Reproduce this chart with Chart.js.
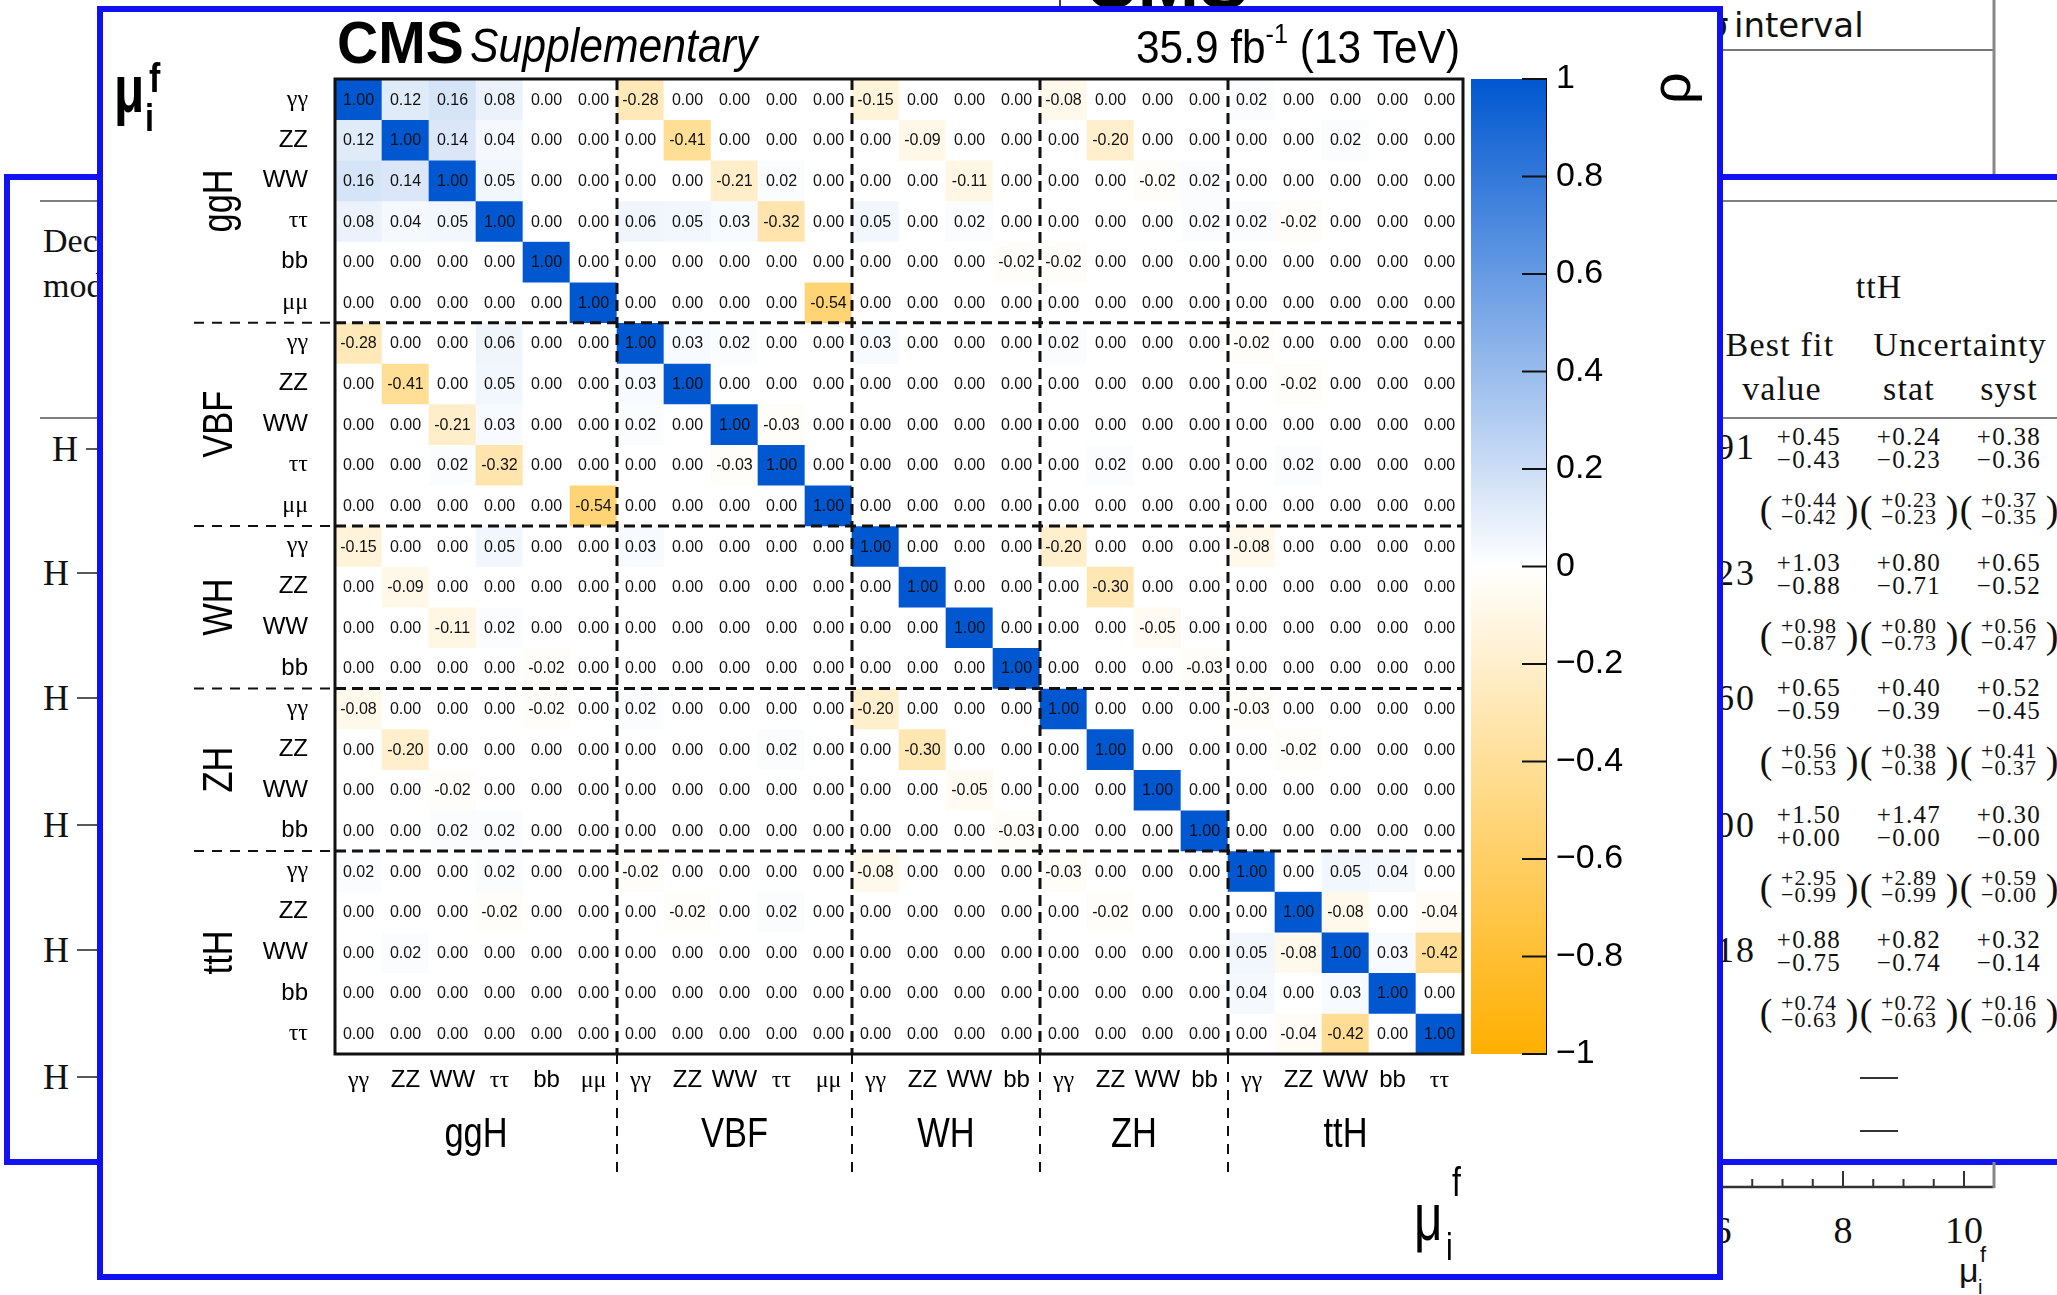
<!DOCTYPE html>
<html>
<head>
<meta charset="utf-8">
<script src="https://cdn.jsdelivr.net/npm/chart.js@4.4.1/dist/chart.umd.min.js"></script>
<style>
  html, body { margin: 0; padding: 0; background: #fff; }
  body { position: relative; width: 2057px; height: 1295px; overflow: hidden; }
  #behind { position: absolute; left: 0; top: 0; z-index: 0; }
  #window { position: absolute; left: 97px; top: 6px; width: 1626px; height: 1274px;
            box-sizing: border-box; border: 6px solid #1010f0; background: #fff; z-index: 2; }
  #matrix { position: absolute; left: 103px; top: 12px; z-index: 3; }
  #scale { position: absolute; left: 1460px; top: 12px; z-index: 3; }
</style>
</head>
<body>
<svg id="behind" width="2057" height="1295" xmlns="http://www.w3.org/2000/svg"
     font-family="Liberation Serif" fill="#111">
  <!-- top strip -->
  <line x1="1060" y1="0" x2="1060" y2="10" stroke="#444" stroke-width="2"/>
  <text x="1084" y="8" font-family="Liberation Sans" font-weight="bold" font-size="74" fill="#000">CMS</text>
  <text x="1707" y="37" font-family="DejaVu Sans" font-size="34">σ</text>
  <text x="1734" y="37" font-family="DejaVu Sans" font-size="34">interval</text>
  <line x1="1700" y1="50" x2="1994" y2="50" stroke="#777" stroke-width="2"/>
  <line x1="1994" y1="0" x2="1994" y2="178" stroke="#888" stroke-width="3"/>
  <!-- results table window -->
  <rect x="7" y="177" width="2100" height="985" fill="#fff" stroke="#1212f2" stroke-width="6"/>
  <line x1="40" y1="201" x2="2057" y2="201" stroke="#555" stroke-width="1.5"/>
  <line x1="40" y1="418" x2="2057" y2="418" stroke="#555" stroke-width="1.5"/>
  <text x="43" y="252" font-size="34">Decay</text>
  <text x="43" y="297" font-size="34">mode</text>
  <g id="hRows" font-size="36"></g>
  <text x="1879" y="298" font-size="34" text-anchor="middle" letter-spacing="1">ttH</text>
  <text x="1780" y="356" font-size="34" text-anchor="middle" letter-spacing="1.2">Best fit</text>
  <text x="1782" y="400" font-size="34" text-anchor="middle" letter-spacing="1.2">value</text>
  <text x="1960" y="356" font-size="34" text-anchor="middle" letter-spacing="1.2">Uncertainty</text>
  <text x="1909" y="400" font-size="34" text-anchor="middle" letter-spacing="1.2">stat</text>
  <text x="2009" y="400" font-size="34" text-anchor="middle" letter-spacing="1.2">syst</text>
  <g id="tableRows"></g>
  <line x1="1860" y1="1078" x2="1898" y2="1078" stroke="#333" stroke-width="2"/>
  <line x1="1860" y1="1131" x2="1898" y2="1131" stroke="#333" stroke-width="2"/>
  <!-- fit axis below the table -->
  <line x1="1700" y1="1187" x2="1994" y2="1187" stroke="#333" stroke-width="2.5"/>
  <line x1="1994" y1="1162" x2="1994" y2="1188" stroke="#888" stroke-width="3"/>
  <g id="fitAxis" font-size="38"></g>
  <text x="1959" y="1282" font-family="Liberation Sans" font-size="34">μ</text>
  <text x="1980" y="1262" font-family="Liberation Sans" font-size="22">f</text>
  <text x="1978" y="1294" font-family="Liberation Sans" font-size="20">i</text>
</svg>
<div id="window"></div>
<canvas id="matrix" width="1399" height="1262"></canvas>
<canvas id="scale" width="257" height="1262"></canvas>
<script>
// decay channel of each parameter, grouped by production mode
const decays = ['γγ', 'ZZ', 'WW', 'ττ', 'bb', 'μμ',
                'γγ', 'ZZ', 'WW', 'ττ', 'μμ',
                'γγ', 'ZZ', 'WW', 'bb',
                'γγ', 'ZZ', 'WW', 'bb',
                'γγ', 'ZZ', 'WW', 'bb', 'ττ'];
const productionModes = ['ggH', 'VBF', 'WH', 'ZH', 'ttH'];
const modeSizes = [6, 5, 4, 4, 5];

// correlation coefficients, rows top to bottom
const rho = [
  [1.00, 0.12, 0.16, 0.08, 0.00, 0.00, -0.28, 0.00, 0.00, 0.00, 0.00, -0.15, 0.00, 0.00, 0.00, -0.08, 0.00, 0.00, 0.00, 0.02, 0.00, 0.00, 0.00, 0.00],
  [0.12, 1.00, 0.14, 0.04, 0.00, 0.00, 0.00, -0.41, 0.00, 0.00, 0.00, 0.00, -0.09, 0.00, 0.00, 0.00, -0.20, 0.00, 0.00, 0.00, 0.00, 0.02, 0.00, 0.00],
  [0.16, 0.14, 1.00, 0.05, 0.00, 0.00, 0.00, 0.00, -0.21, 0.02, 0.00, 0.00, 0.00, -0.11, 0.00, 0.00, 0.00, -0.02, 0.02, 0.00, 0.00, 0.00, 0.00, 0.00],
  [0.08, 0.04, 0.05, 1.00, 0.00, 0.00, 0.06, 0.05, 0.03, -0.32, 0.00, 0.05, 0.00, 0.02, 0.00, 0.00, 0.00, 0.00, 0.02, 0.02, -0.02, 0.00, 0.00, 0.00],
  [0.00, 0.00, 0.00, 0.00, 1.00, 0.00, 0.00, 0.00, 0.00, 0.00, 0.00, 0.00, 0.00, 0.00, -0.02, -0.02, 0.00, 0.00, 0.00, 0.00, 0.00, 0.00, 0.00, 0.00],
  [0.00, 0.00, 0.00, 0.00, 0.00, 1.00, 0.00, 0.00, 0.00, 0.00, -0.54, 0.00, 0.00, 0.00, 0.00, 0.00, 0.00, 0.00, 0.00, 0.00, 0.00, 0.00, 0.00, 0.00],
  [-0.28, 0.00, 0.00, 0.06, 0.00, 0.00, 1.00, 0.03, 0.02, 0.00, 0.00, 0.03, 0.00, 0.00, 0.00, 0.02, 0.00, 0.00, 0.00, -0.02, 0.00, 0.00, 0.00, 0.00],
  [0.00, -0.41, 0.00, 0.05, 0.00, 0.00, 0.03, 1.00, 0.00, 0.00, 0.00, 0.00, 0.00, 0.00, 0.00, 0.00, 0.00, 0.00, 0.00, 0.00, -0.02, 0.00, 0.00, 0.00],
  [0.00, 0.00, -0.21, 0.03, 0.00, 0.00, 0.02, 0.00, 1.00, -0.03, 0.00, 0.00, 0.00, 0.00, 0.00, 0.00, 0.00, 0.00, 0.00, 0.00, 0.00, 0.00, 0.00, 0.00],
  [0.00, 0.00, 0.02, -0.32, 0.00, 0.00, 0.00, 0.00, -0.03, 1.00, 0.00, 0.00, 0.00, 0.00, 0.00, 0.00, 0.02, 0.00, 0.00, 0.00, 0.02, 0.00, 0.00, 0.00],
  [0.00, 0.00, 0.00, 0.00, 0.00, -0.54, 0.00, 0.00, 0.00, 0.00, 1.00, 0.00, 0.00, 0.00, 0.00, 0.00, 0.00, 0.00, 0.00, 0.00, 0.00, 0.00, 0.00, 0.00],
  [-0.15, 0.00, 0.00, 0.05, 0.00, 0.00, 0.03, 0.00, 0.00, 0.00, 0.00, 1.00, 0.00, 0.00, 0.00, -0.20, 0.00, 0.00, 0.00, -0.08, 0.00, 0.00, 0.00, 0.00],
  [0.00, -0.09, 0.00, 0.00, 0.00, 0.00, 0.00, 0.00, 0.00, 0.00, 0.00, 0.00, 1.00, 0.00, 0.00, 0.00, -0.30, 0.00, 0.00, 0.00, 0.00, 0.00, 0.00, 0.00],
  [0.00, 0.00, -0.11, 0.02, 0.00, 0.00, 0.00, 0.00, 0.00, 0.00, 0.00, 0.00, 0.00, 1.00, 0.00, 0.00, 0.00, -0.05, 0.00, 0.00, 0.00, 0.00, 0.00, 0.00],
  [0.00, 0.00, 0.00, 0.00, -0.02, 0.00, 0.00, 0.00, 0.00, 0.00, 0.00, 0.00, 0.00, 0.00, 1.00, 0.00, 0.00, 0.00, -0.03, 0.00, 0.00, 0.00, 0.00, 0.00],
  [-0.08, 0.00, 0.00, 0.00, -0.02, 0.00, 0.02, 0.00, 0.00, 0.00, 0.00, -0.20, 0.00, 0.00, 0.00, 1.00, 0.00, 0.00, 0.00, -0.03, 0.00, 0.00, 0.00, 0.00],
  [0.00, -0.20, 0.00, 0.00, 0.00, 0.00, 0.00, 0.00, 0.00, 0.02, 0.00, 0.00, -0.30, 0.00, 0.00, 0.00, 1.00, 0.00, 0.00, 0.00, -0.02, 0.00, 0.00, 0.00],
  [0.00, 0.00, -0.02, 0.00, 0.00, 0.00, 0.00, 0.00, 0.00, 0.00, 0.00, 0.00, 0.00, -0.05, 0.00, 0.00, 0.00, 1.00, 0.00, 0.00, 0.00, 0.00, 0.00, 0.00],
  [0.00, 0.00, 0.02, 0.02, 0.00, 0.00, 0.00, 0.00, 0.00, 0.00, 0.00, 0.00, 0.00, 0.00, -0.03, 0.00, 0.00, 0.00, 1.00, 0.00, 0.00, 0.00, 0.00, 0.00],
  [0.02, 0.00, 0.00, 0.02, 0.00, 0.00, -0.02, 0.00, 0.00, 0.00, 0.00, -0.08, 0.00, 0.00, 0.00, -0.03, 0.00, 0.00, 0.00, 1.00, 0.00, 0.05, 0.04, 0.00],
  [0.00, 0.00, 0.00, -0.02, 0.00, 0.00, 0.00, -0.02, 0.00, 0.02, 0.00, 0.00, 0.00, 0.00, 0.00, 0.00, -0.02, 0.00, 0.00, 0.00, 1.00, -0.08, 0.00, -0.04],
  [0.00, 0.02, 0.00, 0.00, 0.00, 0.00, 0.00, 0.00, 0.00, 0.00, 0.00, 0.00, 0.00, 0.00, 0.00, 0.00, 0.00, 0.00, 0.00, 0.05, -0.08, 1.00, 0.03, -0.42],
  [0.00, 0.00, 0.00, 0.00, 0.00, 0.00, 0.00, 0.00, 0.00, 0.00, 0.00, 0.00, 0.00, 0.00, 0.00, 0.00, 0.00, 0.00, 0.00, 0.04, 0.00, 0.03, 1.00, 0.00],
  [0.00, 0.00, 0.00, 0.00, 0.00, 0.00, 0.00, 0.00, 0.00, 0.00, 0.00, 0.00, 0.00, 0.00, 0.00, 0.00, 0.00, 0.00, 0.00, 0.00, -0.04, -0.42, 0.00, 1.00]
];

// table rows peeking out on the right
const fitValues = ['91', '23', '60', '00', '18'];
const fitUnc = [
  ['+0.45', '−0.43', '+0.24', '−0.23', '+0.38', '−0.36'],
  ['+1.03', '−0.88', '+0.80', '−0.71', '+0.65', '−0.52'],
  ['+0.65', '−0.59', '+0.40', '−0.39', '+0.52', '−0.45'],
  ['+1.50', '+0.00', '+1.47', '−0.00', '+0.30', '−0.00'],
  ['+0.88', '−0.75', '+0.82', '−0.74', '+0.32', '−0.14']
];
const expectedUnc = [
  ['+0.44', '−0.42', '+0.23', '−0.23', '+0.37', '−0.35'],
  ['+0.98', '−0.87', '+0.80', '−0.73', '+0.56', '−0.47'],
  ['+0.56', '−0.53', '+0.38', '−0.38', '+0.41', '−0.37'],
  ['+2.95', '−0.99', '+2.89', '−0.99', '+0.59', '−0.00'],
  ['+0.74', '−0.63', '+0.72', '−0.63', '+0.16', '−0.06']
];
const fitAxisLabels = [6, 8, 10];

const SVGNS = 'http://www.w3.org/2000/svg';
function svgEl(parent, tag, attrs, text) {
  const el = document.createElementNS(SVGNS, tag);
  for (const k in attrs) el.setAttribute(k, attrs[k]);
  if (text !== undefined) el.textContent = text;
  parent.appendChild(el);
  return el;
}

// "H ->" rows on the left
const hRows = document.getElementById('hRows');
[449, 573, 698, 825, 950, 1077].forEach((cy, i) => {
  const x = i === 0 ? 52 : 43;
  svgEl(hRows, 'text', { x: x, y: cy + 12 }, 'H');
  svgEl(hRows, 'line', { x1: x + 34, y1: cy, x2: 120, y2: cy, stroke: '#222', 'stroke-width': 1.6 });
});

// table rows on the right
const tableRows = document.getElementById('tableRows');
const rowCentres = [447, 573, 698, 825, 950];
const colCentres = [1809, 1909, 2009];
fitValues.forEach((v, r) => {
  const cy = rowCentres[r];
  svgEl(tableRows, 'text', { x: 1756, y: cy + 12, 'font-size': 36, 'text-anchor': 'end', 'letter-spacing': 2 }, v);
  colCentres.forEach((cx, c) => {
    const opt = { 'text-anchor': 'middle', 'font-size': 25, 'letter-spacing': 1.3 };
    svgEl(tableRows, 'text', Object.assign({ x: cx, y: cy - 2 }, opt), fitUnc[r][2 * c]);
    svgEl(tableRows, 'text', Object.assign({ x: cx, y: cy + 21 }, opt), fitUnc[r][2 * c + 1]);
    const e = { 'text-anchor': 'middle', 'font-size': 22, 'letter-spacing': 1 };
    svgEl(tableRows, 'text', Object.assign({ x: cx, y: cy + 60 }, e), expectedUnc[r][2 * c]);
    svgEl(tableRows, 'text', Object.assign({ x: cx, y: cy + 77 }, e), expectedUnc[r][2 * c + 1]);
    svgEl(tableRows, 'text', { x: cx - 43, y: cy + 75, 'font-size': 38, 'text-anchor': 'middle' }, '(');
    svgEl(tableRows, 'text', { x: cx + 43, y: cy + 75, 'font-size': 38, 'text-anchor': 'middle' }, ')');
  });
});

// fit axis ticks
const fitAxis = document.getElementById('fitAxis');
for (let v = 6; v <= 10.01; v += 0.5) {
  const x = 1722 + (v - 6) * 60.5;
  const len = fitAxisLabels.includes(v) ? 16 : 8;
  svgEl(fitAxis, 'line', { x1: x, y1: 1187, x2: x, y2: 1187 - len, stroke: '#333', 'stroke-width': 2 });
}
fitAxisLabels.forEach(v => {
  svgEl(fitAxis, 'text', { x: 1722 + (v - 6) * 60.5, y: 1243, 'text-anchor': 'middle' }, String(v));
});

// colour palette: orange for -1, white for 0, blue for +1
const blue = [0, 87, 208];
const orange = [255, 175, 0];
function rhoColor(v) {
  const c = v >= 0 ? blue : orange;
  const t = Math.min(Math.abs(v), 1);
  return 'rgb(' + c.map(k => Math.round(255 + (k - 255) * t)).join(',') + ')';
}

const isGreek = s => /[γτμ]/.test(s);
const tickFont = label => isGreek(label)
  ? { family: 'Liberation Serif', size: 24 }
  : { family: 'Liberation Sans', size: 24 };

function put(ctx, text, x, y, font, opts = {}) {
  ctx.save();
  ctx.translate(x, y);
  if (opts.rot) ctx.rotate(opts.rot);
  ctx.scale(opts.sx || 1, 1);
  ctx.font = font;
  ctx.textAlign = opts.align || 'left';
  ctx.textBaseline = opts.base || 'alphabetic';
  ctx.fillStyle = '#000';
  ctx.fillText(text, 0, 0);
  ctx.restore();
}

function dashed(ctx, x1, y1, x2, y2, width, dash) {
  ctx.lineWidth = width;
  ctx.setLineDash(dash);
  ctx.beginPath();
  ctx.moveTo(x1, y1);
  ctx.lineTo(x2, y2);
  ctx.stroke();
}

const modeStarts = modeSizes.map((n, i) => modeSizes.slice(0, i).reduce((a, b) => a + b, 0));
const cuts = modeStarts.slice(1);

const cellText = {
  id: 'cellText',
  afterDatasetsDraw(chart) {
    const ctx = chart.ctx;
    ctx.save();
    ctx.font = '16px "Liberation Sans"';
    ctx.fillStyle = '#111';
    ctx.textAlign = 'center';
    ctx.textBaseline = 'middle';
    chart.data.datasets.forEach((ds, r) => {
      chart.getDatasetMeta(r).data.forEach((bar, c) => {
        const p = bar.getCenterPoint();
        ctx.fillText(rho[r][c].toFixed(2), p.x, p.y + 1);
      });
    });
    ctx.restore();
  }
};

const decorations = {
  id: 'decorations',
  afterDraw(chart) {
    const { ctx, chartArea: a, scales: { x, y } } = chart;
    ctx.save();
    ctx.strokeStyle = '#111';
    cuts.forEach(b => {
      const py = y.getPixelForValue(b);
      const px = (x.getPixelForValue(b - 1) + x.getPixelForValue(b)) / 2;
      dashed(ctx, a.left, py, a.right, py, 3, [11, 6]);
      dashed(ctx, 91, py, a.left, py, 2, [10, 8]);
      dashed(ctx, px, a.top, px, a.bottom, 3, [11, 6]);
      dashed(ctx, px, a.bottom, px, 1165, 2, [10, 8]);
    });
    ctx.setLineDash([]);
    ctx.lineWidth = 3;
    ctx.strokeRect(a.left, a.top, a.right - a.left, a.bottom - a.top);

    // production mode labels
    productionModes.forEach((m, g) => {
      const s = modeStarts[g], n = modeSizes[g];
      const cy = y.getPixelForValue(s + n / 2);
      const cx = (x.getPixelForValue(s) + x.getPixelForValue(s + n - 1)) / 2;
      put(ctx, m, 117, cy, '42px "Liberation Sans"', { rot: -Math.PI / 2, align: 'center', base: 'middle', sx: 0.82 });
      put(ctx, m, cx, 1123, '42px "Liberation Sans"', { align: 'center', base: 'middle', sx: 0.82 });
    });

    // header
    put(ctx, 'CMS', 234, 51, 'bold 60px "Liberation Sans"', { sx: 0.95 });
    put(ctx, 'Supplementary', 367, 50, 'italic 48px "Liberation Sans"', { sx: 0.89 });
    const big = '47px "Liberation Sans"', small = '28px "Liberation Sans"';
    ctx.font = big;
    const w1 = ctx.measureText('35.9 fb').width;
    const w3 = ctx.measureText(' (13 TeV)').width;
    ctx.font = small;
    const w2 = ctx.measureText('-1').width;
    const s = 324 / (w1 + w2 + w3);
    let x0 = 1357 - 324;
    put(ctx, '35.9 fb', x0, 51, big, { sx: s });
    x0 += w1 * s;
    put(ctx, '-1', x0, 31, small, { sx: s });
    x0 += w2 * s;
    put(ctx, ' (13 TeV)', x0, 51, big, { sx: s });

    // axis titles
    put(ctx, 'μ', 11, 100, 'bold 66px "Liberation Sans"', { sx: 0.75 });
    put(ctx, 'f', 46, 80, 'bold 40px "Liberation Sans"', { sx: 0.85 });
    put(ctx, 'i', 42, 119, 'bold 38px "Liberation Sans"', { sx: 0.85 });
    put(ctx, 'μ', 1311, 1228, '66px "Liberation Sans"', { sx: 0.75 });
    put(ctx, 'f', 1349, 1184, '40px "Liberation Sans"', { sx: 0.8 });
    put(ctx, 'i', 1343, 1248, '38px "Liberation Sans"', { sx: 0.8 });
    ctx.restore();
  }
};

new Chart(document.getElementById('matrix'), {
  type: 'bar',
  data: {
    labels: decays,
    datasets: rho.map((row, r) => ({
      data: row.map(() => [r, r + 1]),
      backgroundColor: c => rhoColor(rho[r][c.dataIndex]),
      borderWidth: 0,
      grouped: false,
      barPercentage: 1,
      categoryPercentage: 1
    }))
  },
  options: {
    responsive: false,
    animation: false,
    devicePixelRatio: 1,
    events: [],
    layout: { padding: { left: 0, top: 67, right: 39, bottom: 160 } },
    plugins: { legend: { display: false }, tooltip: { enabled: false } },
    scales: {
      x: {
        grid: { display: false, drawTicks: false },
        border: { display: false },
        ticks: {
          autoSkip: false, maxRotation: 0, minRotation: 0, padding: 12, color: '#000',
          font: c => tickFont(decays[c.index])
        },
        afterFit: s => { s.height = 60; }
      },
      y: {
        min: 0, max: 24, reverse: true,
        grid: { display: false, drawTicks: false },
        border: { display: false },
        afterBuildTicks: s => { s.ticks = decays.map((d, i) => ({ value: i + 0.5 })); },
        ticks: {
          padding: 27, color: '#000',
          callback: v => decays[Math.floor(v)],
          font: c => tickFont(decays[c.index])
        },
        afterFit: s => { s.width = 232; }
      }
    }
  },
  plugins: [cellText, decorations]
});

// colour scale
const scaleMarks = {
  id: 'scaleMarks',
  afterDraw(chart) {
    const { ctx, chartArea: a, scales: { y } } = chart;
    ctx.save();
    ctx.strokeStyle = '#111';
    ctx.lineWidth = 2;
    y.ticks.forEach(t => {
      const py = y.getPixelForValue(t.value);
      ctx.beginPath();
      ctx.moveTo(a.right - 24, py);
      ctx.lineTo(a.right, py);
      ctx.stroke();
    });
    put(ctx, 'ρ', 215, 76, '56px "Liberation Sans"', { rot: -Math.PI / 2, align: 'center', base: 'middle' });
    ctx.restore();
  }
};

new Chart(document.getElementById('scale'), {
  type: 'bar',
  data: {
    labels: ['ρ'],
    datasets: [{
      data: [[-1, 1]],
      backgroundColor: c => {
        const a = c.chart.chartArea;
        if (!a) return '#fff';
        const g = c.chart.ctx.createLinearGradient(0, a.bottom, 0, a.top);
        g.addColorStop(0, rhoColor(-1));
        g.addColorStop(0.5, rhoColor(0));
        g.addColorStop(1, rhoColor(1));
        return g;
      },
      borderWidth: 0,
      barPercentage: 1,
      categoryPercentage: 1
    }]
  },
  options: {
    responsive: false,
    animation: false,
    devicePixelRatio: 1,
    events: [],
    layout: { padding: { left: 11, top: 67, right: 71, bottom: 220 } },
    plugins: { legend: { display: false }, tooltip: { enabled: false } },
    scales: {
      x: { display: false },
      y: {
        position: 'right', min: -1, max: 1,
        grid: { drawOnChartArea: false, drawTicks: false },
        border: { display: true, color: '#000', width: 2 },
        ticks: {
          stepSize: 0.2, padding: 10, color: '#000',
          font: { family: 'Liberation Sans', size: 34 },
          callback: v => {
            const r = Math.round(v * 10) / 10;
            return r < 0 ? '\u2212' + Math.abs(r) : String(r);
          }
        },
        afterFit: s => { s.width = 100; }
      }
    }
  },
  plugins: [scaleMarks]
});
</script>
</body>
</html>
